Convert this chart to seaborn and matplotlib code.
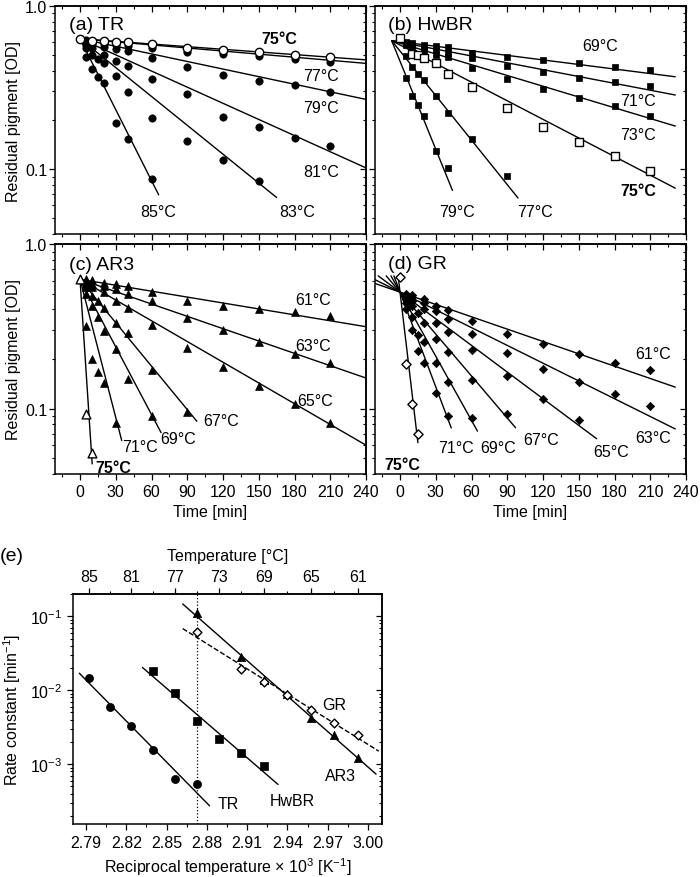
import numpy as np
import pandas as pd
import seaborn as sns
import matplotlib.pyplot as plt
from matplotlib.ticker import (FixedLocator, MultipleLocator, LogLocator,
                               NullFormatter, FuncFormatter, FormatStrFormatter)

# ---------------- (a) TR : residual pigment vs time ----------------
tr_temps = [75, 77, 79, 81, 83, 85]
tr_times = [
    [0, 10, 20, 30, 40, 60, 90, 120, 150, 180, 210],
    [5, 10, 20, 30, 40, 60, 90, 120, 150, 180, 210],
    [5, 10, 20, 30, 40, 60, 90, 120, 150, 180, 210],
    [5, 10, 20, 30, 40, 60, 90, 120, 150, 180, 210],
    [5, 10, 15, 20, 30, 40, 60, 90, 120, 150],
    [5, 10, 15, 20, 30, 40, 60],
]
tr_od = [
    [0.627, 0.613, 0.607, 0.599, 0.599, 0.585, 0.55, 0.54, 0.52, 0.50, 0.484],
    [0.62, 0.60, 0.585, 0.575, 0.565, 0.55, 0.524, 0.508, 0.491, 0.473, 0.456],
    [0.60, 0.585, 0.563, 0.545, 0.527, 0.478, 0.424, 0.377, 0.348, 0.328, 0.296],
    [0.58, 0.55, 0.50, 0.462, 0.427, 0.357, 0.288, 0.208, 0.182, 0.156, 0.139],
    [0.55, 0.50, 0.47, 0.45, 0.374, 0.296, 0.205, 0.149, 0.114, 0.085],
    [0.484, 0.41, 0.365, 0.335, 0.192, 0.153, 0.087],
]

# ---------------- (b) HwBR ----------------
hw_temps = [69, 71, 73, 75, 77, 79]
hw_times = [
    [5, 10, 20, 30, 40, 60, 90, 120, 150, 180, 210],
    [5, 10, 20, 30, 40, 60, 90, 120, 150, 180, 210],
    [5, 10, 20, 30, 40, 60, 90, 120, 150, 180, 210],
    [0, 10, 15, 20, 30, 40, 60, 90, 120, 150, 180, 210],
    [5, 10, 15, 20, 30, 40, 60, 90],
    [5, 10, 15, 20, 30, 40],
]
hw_od = [
    [0.60, 0.595, 0.58, 0.566, 0.558, 0.515, 0.484, 0.466, 0.445, 0.424, 0.407],
    [0.59, 0.575, 0.55, 0.535, 0.515, 0.477, 0.43, 0.396, 0.362, 0.343, 0.321],
    [0.58, 0.56, 0.53, 0.50, 0.484, 0.415, 0.356, 0.31, 0.273, 0.242, 0.212],
    [0.634, 0.508, 0.50, 0.477, 0.445, 0.383, 0.317, 0.237, 0.180, 0.147, 0.121, 0.098],
    [0.496, 0.425, 0.385, 0.353, 0.282, 0.221, 0.153, 0.091],
    [0.36, 0.282, 0.248, 0.212, 0.13, 0.101],
]

# ---------------- (c) AR3 ----------------
ar_temps = [61, 63, 65, 67, 69, 71, 75]
ar_times = [
    [5, 10, 20, 30, 40, 60, 90, 120, 150, 180, 210],
    [5, 10, 20, 30, 40, 60, 90, 120, 150, 180, 210],
    [5, 10, 20, 30, 40, 60, 90, 120, 150, 180, 210],
    [5, 10, 15, 20, 30, 40, 60, 90],
    [5, 10, 15, 20, 30, 40, 60],
    [5, 10, 15, 20, 30],
    [0, 5, 10],
]
ar_od = [
    [0.616, 0.604, 0.582, 0.574, 0.555, 0.51, 0.453, 0.418, 0.403, 0.385, 0.363],
    [0.59, 0.575, 0.555, 0.53, 0.50, 0.449, 0.355, 0.301, 0.255, 0.216, 0.188],
    [0.57, 0.545, 0.51, 0.449, 0.41, 0.323, 0.232, 0.179, 0.138, 0.107, 0.082],
    [0.55, 0.48, 0.45, 0.41, 0.33, 0.287, 0.171, 0.095],
    [0.50, 0.42, 0.36, 0.294, 0.23, 0.152, 0.09],
    [0.318, 0.199, 0.167, 0.142, 0.082],
    [0.616, 0.092, 0.054],
]

# ---------------- (d) GR ----------------
gr_temps = [61, 63, 65, 67, 69, 71, 75]
gr_times = [
    [5, 10, 20, 30, 40, 60, 90, 120, 150, 180, 210],
    [5, 10, 20, 30, 40, 60, 90, 120, 150, 180, 210],
    [5, 10, 20, 30, 40, 60, 90, 120, 150],
    [5, 10, 15, 20, 30, 40, 60, 90],
    [5, 10, 15, 20, 30, 40, 60],
    [5, 10, 15, 20, 30, 40],
    [0, 5, 10, 15],
]
gr_od = [
    [0.50, 0.49, 0.46, 0.422, 0.396, 0.339, 0.284, 0.247, 0.216, 0.19, 0.171],
    [0.49, 0.475, 0.44, 0.39, 0.35, 0.284, 0.218, 0.175, 0.145, 0.122, 0.103],
    [0.48, 0.45, 0.40, 0.331, 0.29, 0.227, 0.157, 0.114, 0.0856],
    [0.46, 0.42, 0.38, 0.33, 0.264, 0.222, 0.150, 0.0928],
    [0.44, 0.36, 0.28, 0.255, 0.188, 0.145, 0.0877],
    [0.40, 0.30, 0.225, 0.188, 0.125, 0.0906],
    [0.627, 0.186, 0.107, 0.07],
]

# ---------------- (e) rate constants ----------------
e_tr_temp = [85, 83, 81, 79, 77, 75]
e_tr_k = [0.0145, 0.0059, 0.0033, 0.00155, 0.00063, 0.00054]
e_hw_temp = [79, 77, 75, 73, 71, 69]
e_hw_k = [0.018, 0.0091, 0.0038, 0.0022, 0.0014, 0.00093]
e_ar_temp = [75, 71, 69, 67, 65, 63, 61]
e_ar_k = [0.11, 0.028, 0.0137, 0.0088, 0.0042, 0.0025, 0.0012]
e_gr_temp = [75, 71, 69, 67, 65, 63, 61]
e_gr_k = [0.061, 0.0192, 0.013, 0.0085, 0.0054, 0.0036, 0.0025]

e_xticks = [2.79, 2.82, 2.85, 2.88, 2.91, 2.94, 2.97, 3.00]
e_top_ticks = [85, 81, 77, 73, 69, 65, 61]
e_top_minor = [83, 79, 75, 71, 67, 63]

# ---------------- style ----------------
sns.set_theme(style="ticks", rc={
    "axes.linewidth": 1.1,
    "axes.edgecolor": "black", "text.color": "black", "axes.labelcolor": "black",
    "xtick.color": "black", "ytick.color": "black",
    "xtick.major.size": 4, "ytick.major.size": 4,
    "xtick.minor.size": 2.2, "ytick.minor.size": 2.2,
    "xtick.major.width": 0.9, "ytick.major.width": 0.9,
    "xtick.minor.width": 0.8, "ytick.minor.width": 0.8,
    "xtick.labelsize": 11.5, "ytick.labelsize": 11.5,
    "axes.labelsize": 11.5,
})
plt.rcParams['font.family'] = ['Liberation Sans', 'DejaVu Sans']
plt.rcParams['mathtext.fontset'] = 'custom'
plt.rcParams['mathtext.rm'] = 'Liberation Sans'
plt.rcParams['mathtext.it'] = 'Liberation Sans:italic'
plt.rcParams['mathtext.bf'] = 'Liberation Sans:bold'

W, H = 700, 878
fig = plt.figure(figsize=(W / 100, H / 100), dpi=100)


def box(l, t, r, b):
    return [l / W, 1 - b / H, (r - l) / W, (b - t) / H]


def points_frame(temps, times, ods):
    rows = [(T, t, v) for T, ts, vs in zip(temps, times, ods) for t, v in zip(ts, vs)]
    return pd.DataFrame(rows, columns=["temp", "t", "od"])


def decay_lines(temps, temps_e, ks_e, t0, od0, t_ends, top=None, t_min=-21):
    # first-order decay lines through a common starting point, slope from panel (e)
    k_of = dict(zip(temps_e, ks_e))
    rows = []
    for T, t_end in zip(temps, t_ends):
        k = k_of[T]
        t_start = t0 if top is None else max(t_min, t0 - np.log10(top / od0) / k)
        for t in (t_start, t_end):
            rows.append((T, t, od0 * 10 ** (-k * (t - t0))))
    return pd.DataFrame(rows, columns=["temp", "t", "od"])


def style_time_axes(ax, left, bottom):
    ax.set_yscale("log")
    ax.set_xlim(-21, 240)
    ax.set_ylim(0.04, 1.0)
    ax.xaxis.set_major_locator(MultipleLocator(30))
    ax.xaxis.set_minor_locator(MultipleLocator(15))
    ax.yaxis.set_major_locator(FixedLocator([0.1, 1.0]))
    ax.yaxis.set_minor_locator(LogLocator(subs=np.arange(2, 10)))
    ax.yaxis.set_minor_formatter(NullFormatter())
    ax.yaxis.set_major_formatter(FuncFormatter(lambda v, p: f"{v:.1f}"))
    ax.tick_params(which="both", direction="out")
    ax.tick_params(axis="y", pad=1.5)
    ax.tick_params(axis="x", pad=3)
    ax.tick_params(labelleft=left, labelbottom=bottom)
    # top and right ticks point inward
    top = ax.secondary_xaxis("top")
    top.xaxis.set_major_locator(MultipleLocator(30))
    top.xaxis.set_minor_locator(MultipleLocator(15))
    top.xaxis.set_major_formatter(NullFormatter())
    top.tick_params(which="both", direction="in")
    right = ax.secondary_yaxis("right")
    right.yaxis.set_major_locator(FixedLocator([0.1, 1.0]))
    right.yaxis.set_minor_locator(LogLocator(subs=np.arange(2, 10)))
    right.yaxis.set_major_formatter(NullFormatter())
    right.yaxis.set_minor_formatter(NullFormatter())
    right.tick_params(which="both", direction="in")
    ax.set_xlabel("Time [min]" if bottom else "", labelpad=4)
    ax.set_ylabel("Residual pigment [OD]" if left else "", labelpad=3)


def draw_kinetics(ax, pts, lines, marker, s_fill, s_open):
    sns.lineplot(data=lines, x="t", y="od", units="temp", estimator=None,
                 color="black", lw=1.0, legend=False, ax=ax)
    sns.scatterplot(data=pts[pts.temp != 75], x="t", y="od", marker=marker, s=s_fill,
                    color="black", edgecolor="black", linewidth=0.5, zorder=3,
                    legend=False, ax=ax)
    sns.scatterplot(data=pts[pts.temp == 75], x="t", y="od", marker=marker, s=s_open,
                    color="white", edgecolor="black", linewidth=1.0, zorder=4,
                    legend=False, ax=ax)


def label(ax, items, size=11.5):
    for txt, t, od, kw in items:
        ax.text(t, od, txt, fontsize=size, va="center", ha=kw.get("ha", "center"),
                fontweight=kw.get("weight", "normal"))


ax_a = fig.add_axes(box(55, 7, 366, 235))
ax_b = fig.add_axes(box(375, 7, 686, 235))
ax_c = fig.add_axes(box(55, 245, 366, 475))
ax_d = fig.add_axes(box(375, 245, 686, 475))
ax_e = fig.add_axes(box(73, 595, 382, 825))

# (a)
draw_kinetics(ax_a, points_frame(tr_temps, tr_times, tr_od),
              decay_lines(tr_temps, e_tr_temp, e_tr_k, 0, 0.63, [240, 240, 240, 240, 165, 66]),
              "o", 28, 36)
style_time_axes(ax_a, True, False)
label(ax_a, [("75°C", 167, 0.636, {"weight": "bold"}), ("77°C", 202, 0.377, {}),
             ("79°C", 202, 0.237, {}), ("81°C", 202, 0.097, {}),
             ("83°C", 182, 0.055, {}), ("85°C", 66, 0.055, {})])
ax_a.text(-9, 0.775, "(a) TR", fontsize=14, va="center", ha="left")

# (b)
draw_kinetics(ax_b, points_frame(hw_temps, hw_times, hw_od),
              decay_lines(hw_temps, e_hw_temp, e_hw_k, -7, 0.613, [231, 231, 231, 231, 99, 44]),
              "s", 22, 28)
style_time_axes(ax_b, False, False)
label(ax_b, [("69°C", 168, 0.571, {}), ("71°C", 200, 0.262, {}), ("73°C", 200, 0.164, {}),
             ("75°C", 200, 0.074, {"weight": "bold"}), ("79°C", 48, 0.055, {}),
             ("77°C", 113, 0.055, {})])
ax_b.text(-10, 0.775, "(b) HwBR", fontsize=14, va="center", ha="left")

# (c)
draw_kinetics(ax_c, points_frame(ar_temps, ar_times, ar_od),
              decay_lines(ar_temps, e_ar_temp, e_ar_k, 0, 0.61, [240, 240, 240, 98, 68, 35, 10.2]),
              "^", 32, 40)
style_time_axes(ax_c, True, True)
label(ax_c, [("61°C", 196, 0.46, {}), ("63°C", 196, 0.24, {}), ("65°C", 197, 0.112, {}),
             ("67°C", 118, 0.084, {}), ("69°C", 82, 0.066, {}), ("71°C", 50, 0.059, {}),
             ("75°C", 13, 0.044, {"weight": "bold", "ha": "left"})])
ax_c.text(-9, 0.755, "(c) AR3", fontsize=14, va="center", ha="left")

# (d)
draw_kinetics(ax_d, points_frame(gr_temps, gr_times, gr_od),
              decay_lines(gr_temps, e_gr_temp, e_gr_k, 0, 0.51,
                          [231, 231, 165, 97, 65, 43, 15], top=0.64),
              "D", 18, 22)
style_time_axes(ax_d, False, True)
label(ax_d, [("61°C", 212, 0.216, {}), ("63°C", 212, 0.0665, {}), ("65°C", 177, 0.055, {}),
             ("67°C", 118, 0.065, {}), ("69°C", 82, 0.058, {}), ("71°C", 47, 0.058, {}),
             ("75°C", -13, 0.046, {"weight": "bold", "ha": "left"})])
ax_d.text(-10, 0.765, "(d) GR", fontsize=14, va="center", ha="left")


# (e) Arrhenius plot
def recip(T):
    return 1000.0 / (np.asarray(T, dtype=float) + 273.15)


series_e = [
    (e_tr_temp, e_tr_k, "o", True, "-", (2.785, 2.882), 34),
    (e_hw_temp, e_hw_k, "s", True, "-", (2.832, 2.933), 28),
    (e_ar_temp, e_ar_k, "^", True, "-", (2.862, 3.006), 36),
    (e_gr_temp, e_gr_k, "D", False, "--", (2.862, 3.008), 20),
]
ax_e.axvline(recip(75), color="black", ls=":", lw=0.9, zorder=1)
for temps, ks, mk, filled, ls, span, s in series_e:
    x = recip(temps)
    slope, icpt = np.polyfit(x, np.log10(ks), 1)
    xs = np.array(span)
    sns.lineplot(x=xs, y=10 ** (icpt + slope * xs), color="black", lw=1.0,
                 linestyle=ls, ax=ax_e)
    sns.scatterplot(x=x, y=ks, marker=mk, s=s, color="black" if filled else "white",
                    edgecolor="black", linewidth=0.5 if filled else 1.0, zorder=4, ax=ax_e)

ax_e.set_yscale("log")
ax_e.set_xlim(2.7803, 3.0104)
ax_e.set_ylim(1.55e-4, 0.2)
ax_e.xaxis.set_major_locator(FixedLocator(e_xticks))
ax_e.xaxis.set_major_formatter(FormatStrFormatter("%.2f"))
ax_e.xaxis.set_minor_locator(MultipleLocator(0.015))
ax_e.yaxis.set_minor_locator(LogLocator(subs=np.arange(2, 10)))
ax_e.yaxis.set_minor_formatter(NullFormatter())
ax_e.tick_params(which="both", direction="out")
ax_e.tick_params(axis="x", pad=4)
ax_e.tick_params(axis="y", pad=4)
ax_e.set_xlabel("Reciprocal temperature × 10$^{3}$ [K$^{-1}$]", labelpad=4)
ax_e.set_ylabel("Rate constant [min$^{-1}$]", labelpad=5)

right_e = ax_e.secondary_yaxis("right")
right_e.yaxis.set_minor_locator(LogLocator(subs=np.arange(2, 10)))
right_e.yaxis.set_major_formatter(NullFormatter())
right_e.yaxis.set_minor_formatter(NullFormatter())
right_e.tick_params(which="both", direction="in")

top_e = ax_e.secondary_xaxis("top", functions=(lambda x: 1000.0 / x - 273.15,
                                               lambda T: 1000.0 / (T + 273.15)))
top_e.xaxis.set_major_locator(FixedLocator(e_top_ticks))
top_e.xaxis.set_minor_locator(FixedLocator(e_top_minor))
top_e.xaxis.set_major_formatter(FormatStrFormatter("%d"))
top_e.tick_params(which="both", direction="out", pad=3)
top_e.set_xlabel("Temperature [°C]", labelpad=7)

for txt, x, y in [("TR", 2.888, 2.9e-4), ("HwBR", 2.927, 3.2e-4),
                  ("GR", 2.966, 6.4e-3), ("AR3", 2.968, 7.0e-4)]:
    ax_e.text(x, y, txt, fontsize=11.5, va="center", ha="left")

fig.text(12 / W, 1 - 557 / H, "(e)", fontsize=14, va="center", ha="center")

fig.savefig("out.png", dpi=100)
